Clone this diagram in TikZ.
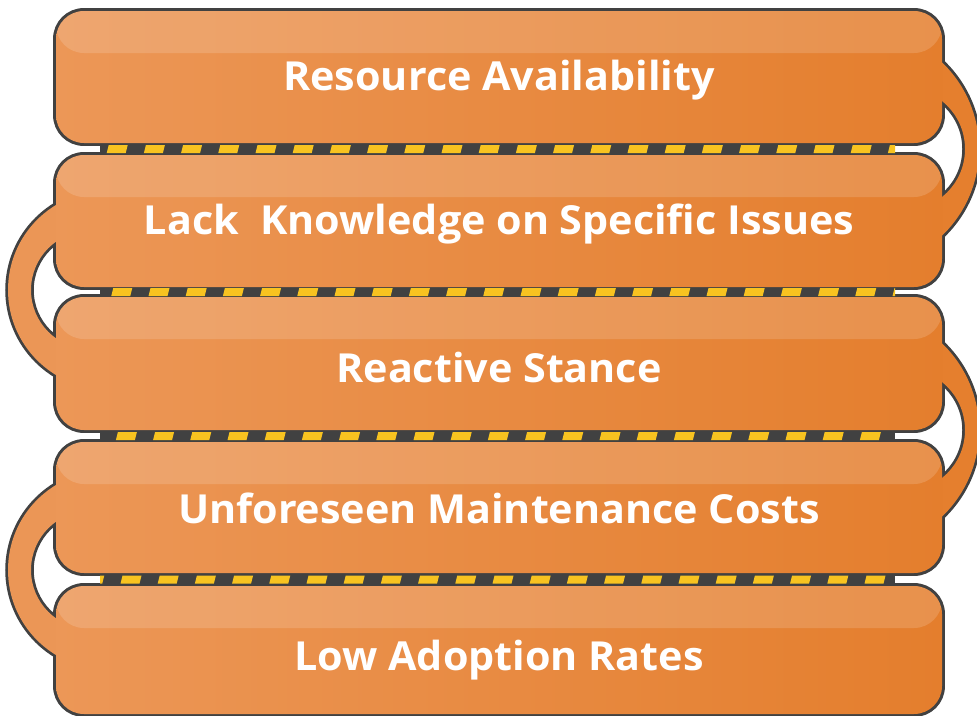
\documentclass[tikz,border=0pt]{standalone}
\usepackage{fontspec}
\setmainfont{Open Sans}[FakeStretch=1.032]
\definecolor{edgec}{HTML}{414141}
\definecolor{boxL}{HTML}{EC9757}
\definecolor{boxR}{HTML}{E47E2D}
\definecolor{ringL}{HTML}{EB9656}
\definecolor{ringR}{HTML}{E57F2E}
\definecolor{dashc}{HTML}{F8C320}
\pgfdeclarelayer{strokes}
\pgfdeclarelayer{mid}
\pgfsetlayers{strokes,mid,main}
\begin{document}
\begin{tikzpicture}[x=1pt,y=-1pt,
  box/.style={minimum width=886pt, inner sep=0pt, rounded corners=28pt,
    left color=boxL, right color=boxR, text=white,
    font=\fontsize{40}{42}\selectfont\bfseries, text depth=0pt,
    path picture={\fill[white, fill opacity=0.15] ([yshift=2pt]path picture bounding box.north west) rectangle ([yshift=-42pt]path picture bounding box.north east);}},
  outline/.style={draw=edgec, line width=5.5pt}]
\useasboundingbox (0,0) rectangle (977,715);

% boxes
\node[box, minimum height=132pt, text height=27.6pt] (b1) at (499,77) {Resource Availability};
\node[box, minimum height=132pt, text height=26.6pt] (b2) at (499,221) {Lack\ \ Knowledge on Specific Issues};
\node[box, minimum height=133pt, text height=37.6pt] (b3) at (499,363.5) {Reactive Stance};
\node[box, minimum height=131pt, text height=31.6pt] (b4) at (499,507.5) {Unforeseen Maintenance Costs};
\node[box, minimum height=128pt, text height=40.6pt] (b5) at (499,650) {Low Adoption Rates};

% outlines of boxes
\begin{pgfonlayer}{strokes}
  \foreach \b in {b1,b2,b3,b4,b5}
    \draw[outline, rounded corners=28pt] (\b.north west) rectangle (\b.south east);
\end{pgfonlayer}

% rings: right at 149 and 430, left at 290 and 570
\foreach \c in {149,430} {
  \begin{pgfonlayer}{strokes}
    \begin{scope}
      \clip (940,\c-110) rectangle (990,\c+110);
      \draw[outline] (859,\c) circle[radius=120pt];
      \draw[outline] (903.4,\c) circle[radius=61.6pt];
    \end{scope}
  \end{pgfonlayer}
  \begin{pgfonlayer}{mid}
    \begin{scope}
      \clip (940,\c-110) rectangle (990,\c+110);
      \fill[ringR, even odd rule] (859,\c) circle[radius=120pt] (903.4,\c) circle[radius=61.6pt];
    \end{scope}
  \end{pgfonlayer}
}
\foreach \c in {290,570} {
  \begin{pgfonlayer}{strokes}
    \begin{scope}
      \clip (-10,\c-110) rectangle (58,\c+110);
      \draw[outline] (107.3,\c) circle[radius=99.3pt];
      \draw[outline] (90.2,\c) circle[radius=59.2pt];
    \end{scope}
  \end{pgfonlayer}
  \begin{pgfonlayer}{mid}
    \begin{scope}
      \clip (-10,\c-110) rectangle (58,\c+110);
      \fill[ringL, even odd rule] (107.3,\c) circle[radius=99.3pt] (90.2,\c) circle[radius=59.2pt];
    \end{scope}
  \end{pgfonlayer}
}

% strips with dashes
\begin{pgfonlayer}{mid}
\foreach \ya/\yb/\ph in {143/155/106.7, 287/297/111.3, 430/442/115.9, 573/586/120.5} {
  \fill[edgec] (100,\ya-3) rectangle (895,\yb+3);
  \begin{scope}
    \clip (100,\ya) rectangle (895,\yb);
    \foreach \k in {-1,...,21}
      \fill[dashc] ({\ph+37.2*\k},{(\ya+\yb)/2+4}) -- ++(19,0) -- ++(2,-8) -- ++(-19,0) -- cycle;
  \end{scope}
}
\end{pgfonlayer}
\end{tikzpicture}
\end{document}
